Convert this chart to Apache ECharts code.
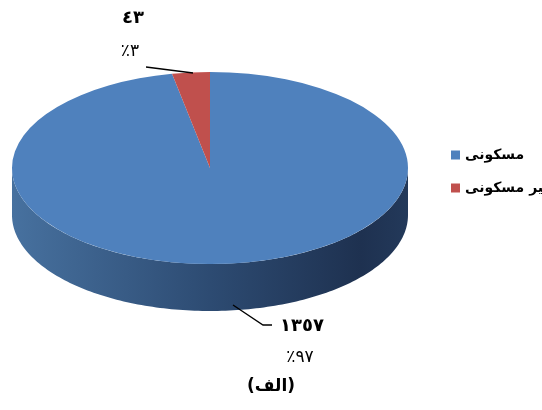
<!DOCTYPE html>
<html><head><meta charset="utf-8">
<script src="https://cdn.jsdelivr.net/npm/echarts@6/dist/echarts.min.js"></script>
<style>html,body{margin:0;background:#fff}#c{width:542px;height:410px}</style>
</head><body><div id="c"></div>
<script>
// Building units by type
const categories = ['مسکونی', 'غیر مسکونی'];
const values = [1357, 43];
const caption = '(الف)';

const colors = ['#4f81bd', '#c0504d'];
const FONT = '"DejaVu Sans", sans-serif';
const total = values.reduce((a, b) => a + b, 0);
const toArabicDigits = s => String(s).replace(/\d/g, d => '٠١٢٣٤٥٦٧٨٩'[d]);

// Tilted disc geometry
const pie = { cx: 210, cy: 168, rx: 198, ry: 96, depth: 47 };
// Label anchors and leader lines for each slice
const labelLayout = [
  { value: [280, 326, 'left'], pct: [300, 358], line: [[233, 305], [263, 325], [272, 325]] },
  { value: [133, 18, 'center'], pct: [130, 52], line: [[193, 73], [146, 67]] }
];

function pt(theta, dy) {
  return [pie.cx + pie.rx * Math.sin(theta), pie.cy - pie.ry * Math.cos(theta) + (dy || 0)];
}

function makeRender(idx) {
  return function (params, api) {
    const v = api.value(0);
    let start = 0;
    for (let i = 0; i < idx; i++) start += values[i];
    const a0 = start / total * 2 * Math.PI;
    const a1 = (start + v) / total * 2 * Math.PI;
    const children = [];
    // visible rim on the front half of the disc
    const s0 = Math.max(a0, Math.PI / 2), s1 = Math.min(a1, 3 * Math.PI / 2);
    if (s1 > s0) {
      const top = [], bot = [];
      const n = 160;
      for (let k = 0; k <= n; k++) {
        const t = s0 + (s1 - s0) * k / n;
        top.push(pt(t));
        bot.push(pt(t, pie.depth));
      }
      children.push({
        type: 'polygon',
        shape: { points: top.concat(bot.reverse()) },
        style: {
          fill: new echarts.graphic.LinearGradient(1, 0, 0, 0, [
            { offset: 0, color: '#23395a' },
            { offset: 0.12, color: '#1e3150' },
            { offset: 0.5, color: '#2d4b72' },
            { offset: 1, color: '#47719f' }
          ])
        }
      });
    }
    // top face
    children.push({
      type: 'sector',
      x: pie.cx, y: pie.cy,
      scaleY: pie.ry / pie.rx,
      shape: { cx: 0, cy: 0, r: pie.rx, startAngle: a0 - Math.PI / 2, endAngle: a1 - Math.PI / 2, clockwise: true },
      style: { fill: colors[idx] }
    });
    const lay = labelLayout[idx];
    children.push({
      type: 'polyline',
      shape: { points: lay.line },
      style: { stroke: '#000', lineWidth: 1.3, fill: null }
    });
    children.push({
      type: 'text',
      style: {
        text: toArabicDigits(v), x: lay.value[0], y: lay.value[1],
        align: lay.value[2], verticalAlign: 'middle',
        font: 'bold 18px ' + FONT, fill: '#000'
      }
    });
    children.push({
      type: 'text',
      style: {
        text: '٪' + toArabicDigits(Math.round(v / total * 100)), x: lay.pct[0], y: lay.pct[1],
        align: 'center', verticalAlign: 'middle',
        font: '17px ' + FONT, fill: '#000'
      }
    });
    return { type: 'group', children };
  };
}

const chart = echarts.init(document.getElementById('c'), null, { renderer: 'canvas' });
chart.setOption({
  animation: false,
  backgroundColor: '#fff',
  title: {
    text: caption, left: 'center', top: 373,
    textStyle: { fontFamily: FONT, fontSize: 17, fontWeight: 'bold', color: '#000' }
  },
  legend: {
    orient: 'vertical', left: 446, top: 143,
    icon: 'rect', itemWidth: 9, itemHeight: 9, itemGap: 19,
    data: categories,
    textStyle: { fontFamily: FONT, fontSize: 14, fontWeight: 'bold', color: '#000', padding: [0, 0, 0, 0] }
  },
  series: categories.map((name, i) => ({
    type: 'custom',
    name,
    coordinateSystem: 'none',
    silent: true,
    itemStyle: { color: colors[i] },
    data: [[values[i]]],
    renderItem: makeRender(i)
  }))
});
</script></body></html>
